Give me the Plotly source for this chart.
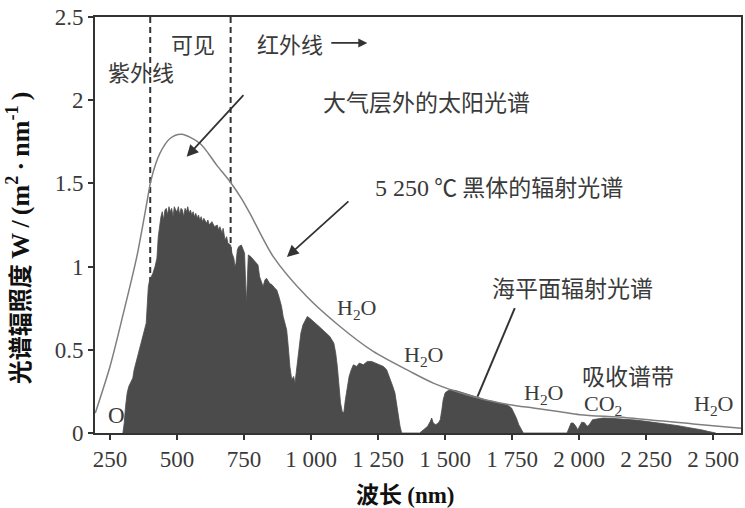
import plotly.graph_objects as go

# ---- data ----
wl_bb = [195, 250, 300, 350, 387, 403, 436, 474, 517, 586, 648, 698, 740, 772, 859, 984,
         1108, 1232, 1369, 1456, 1580, 1705, 1829, 1929, 2003, 2177, 2426, 2604]
irr_bb = [0.12, 0.40, 0.72, 1.06, 1.38, 1.52, 1.68, 1.77, 1.795, 1.74, 1.61, 1.51, 1.41, 1.32,
          1.06, 0.82, 0.64, 0.49, 0.37, 0.30, 0.23, 0.18, 0.15, 0.128, 0.11, 0.092, 0.054, 0.028]

wl_sea = [298, 303, 308, 314, 320, 325, 335, 340, 350, 355, 362, 370, 375, 380, 385, 390, 393, 398,
          405, 410, 418, 425, 430, 435, 440, 445, 450, 455, 460, 465, 470, 475, 480, 485, 490,
          495, 500, 505, 510, 515, 520, 525, 530, 535, 540, 545, 550, 555, 560, 565, 570, 575,
          580, 585, 590, 595, 600, 610, 615, 620, 630, 640, 650, 655, 660, 668, 672, 679, 685,
          690, 700, 705, 712, 716, 720, 725, 730, 740, 748, 752, 756, 759, 763, 766, 775, 785,
          795, 802, 808, 815, 821, 828, 834, 845, 855, 865, 872, 880, 890, 896, 903, 909, 915,
          921, 928, 935, 940, 948, 955, 962, 970, 978, 986, 995, 1010, 1030, 1050, 1070, 1085,
          1092, 1098, 1104, 1110, 1116, 1122, 1128, 1135, 1142, 1150, 1158, 1170, 1180, 1195,
          1210, 1226, 1240, 1255, 1270, 1282, 1295, 1305, 1313, 1320, 1326, 1332, 1338, 1405,
          1420, 1435, 1445, 1450, 1456, 1465, 1475, 1482, 1488, 1493, 1500, 1506, 1520, 1540,
          1560, 1580, 1600, 1620, 1640, 1660, 1680, 1700, 1720, 1735, 1748, 1758, 1766, 1775,
          1785, 1792, 1955, 1962, 1970, 1978, 1986, 1995, 2002, 2010, 2020, 2030, 2038, 2050,
          2070, 2090, 2120, 2150, 2180, 2210, 2250, 2290, 2330, 2370, 2400, 2430, 2460, 2480,
          2500, 2510]
irr_sea = [0, 0.06, 0.16, 0.24, 0.28, 0.30, 0.33, 0.38, 0.44, 0.48, 0.52, 0.56, 0.60, 0.62, 0.66,
           0.80, 0.88, 0.92, 0.94, 0.96, 1.00, 1.05, 1.18, 1.26, 1.30, 1.33, 1.28, 1.34, 1.35,
           1.31, 1.36, 1.33, 1.35, 1.30, 1.36, 1.34, 1.33, 1.36, 1.31, 1.35, 1.34, 1.30, 1.35,
           1.33, 1.36, 1.32, 1.34, 1.31, 1.33, 1.30, 1.32, 1.29, 1.31, 1.28, 1.30, 1.27, 1.29,
           1.26, 1.28, 1.25, 1.27, 1.24, 1.25, 1.22, 1.24, 1.20, 1.23, 1.16, 1.18, 1.14, 1.13,
           1.08, 1.05, 1.00, 1.02, 1.10, 1.12, 1.13, 1.10, 1.08, 0.90, 0.78, 0.95, 1.07, 1.06,
           1.04, 1.02, 1.01, 0.94, 0.90, 0.88, 0.92, 0.93, 0.90, 0.89, 0.87, 0.86, 0.82, 0.76,
           0.70, 0.66, 0.62, 0.52, 0.40, 0.32, 0.34, 0.30, 0.40, 0.52, 0.60, 0.65, 0.68, 0.70,
           0.69, 0.67, 0.64, 0.61, 0.58, 0.54, 0.48, 0.40, 0.30, 0.18, 0.13, 0.12, 0.20, 0.28,
           0.34, 0.38, 0.41, 0.40, 0.42, 0.41, 0.43, 0.43, 0.42, 0.41, 0.40, 0.38, 0.33, 0.28,
           0.24, 0.16, 0.08, 0.04, 0, 0, 0.02, 0.04, 0.07, 0.09, 0.06, 0.05, 0.06, 0.08, 0.14,
           0.20, 0.24, 0.25, 0.26, 0.255, 0.245, 0.235, 0.225, 0.215, 0.205, 0.195, 0.19, 0.18,
           0.175, 0.165, 0.15, 0.12, 0.09, 0.05, 0.02, 0, 0, 0.03, 0.06, 0.06, 0.045, 0.02, 0.04,
           0.065, 0.062, 0.04, 0.05, 0.08, 0.085, 0.09, 0.088, 0.085, 0.08, 0.078, 0.07, 0.062,
           0.052, 0.044, 0.035, 0.028, 0.018, 0.01, 0.004, 0]

x_tickvals = [250, 500, 750, 1000, 1250, 1500, 1750, 2000, 2250, 2500]
x_ticktext = ["250", "500", "750", "1 000", "1 250", "1 500", "1 750", "2 000", "2 250", "2 500"]
y_tickvals = [0, 0.5, 1, 1.5, 2, 2.5]
y_ticktext = ["0", "0.5", "1", "1.5", "2", "2.5"]

band_edges = [400, 700]

SERIF = "Liberation Serif"
CJK = "Noto Sans CJK SC"
TXT = "#3a3a3a"

fig = go.Figure()
fig.add_trace(go.Scatter(x=wl_sea, y=irr_sea, mode="lines", fill="tozeroy",
                         line=dict(color="#4b4b4b", width=0.8), fillcolor="#4b4b4b",
                         hoverinfo="skip", showlegend=False))
fig.add_trace(go.Scatter(x=wl_bb, y=irr_bb, mode="lines",
                         line=dict(color="#7f7f7f", width=1.5, shape="spline", smoothing=0.8),
                         hoverinfo="skip", showlegend=False))

for e in band_edges:
    fig.add_shape(type="line", x0=e, x1=e, y0=0, y1=2.5, xref="x", yref="y",
                  line=dict(color="#333333", width=2, dash="6px,4px"), layer="below")

# line without head (sea-level label)
fig.add_shape(type="line", x0=1760, y0=0.75, x1=1621, y1=0.218, xref="x", yref="y",
              line=dict(color="#333333", width=2))

def txt(x, y, s, size=23, fam=CJK):
    fig.add_annotation(x=x, y=y, text=s, showarrow=False, xref="x", yref="y",
                       font=dict(family=fam, size=size, color=TXT), xanchor="center", yanchor="middle")

txt(366, 2.175, "紫外线", size=22)
txt(561, 2.344, "可见", size=22)
txt(921, 2.344, "红外线", size=22)
txt(1430, 1.995, "大气层外的太阳光谱")
txt(1702, 1.484, "<span style='font-family:Liberation Serif;font-size:24px'>5 250</span> ℃ 黑体的辐射光谱")
txt(1975, 0.877, "海平面辐射光谱")
txt(2182, 0.349, "吸收谱带")
txt(276, 0.108, "O", size=23, fam=SERIF)
txt(1168, 0.745, "H<sub>2</sub>O", size=22, fam=SERIF)
txt(1421, 0.463, "H<sub>2</sub>O", size=22, fam=SERIF)
txt(1869, 0.234, "H<sub>2</sub>O", size=22, fam=SERIF)
txt(2089, 0.168, "CO<sub>2</sub>", size=22, fam=SERIF)
txt(2503, 0.168, "H<sub>2</sub>O", size=22, fam=SERIF)

def arrow(x, y, ax, ay, head=2, size=1.3, width=1.8):
    fig.add_annotation(x=x, y=y, ax=ax, ay=ay, xref="x", yref="y", axref="x", ayref="y",
                       showarrow=True, arrowhead=head, arrowsize=size, arrowwidth=width,
                       arrowcolor="#333333", text="")

arrow(536, 1.66, 753, 2.04)
arrow(910, 1.058, 1145, 1.40)
arrow(1210, 2.344, 1070, 2.344, head=2, size=1.0, width=1.8)

# axis titles
fig.add_annotation(x=0.48, y=-0.145, xref="paper", yref="paper", showarrow=False,
                   text="<b>波长 <span style='font-family:Liberation Serif'>(nm)</span></b>",
                   font=dict(family=CJK, size=23, color="#111111"),
                   xanchor="center", yanchor="middle")
ts = "\u2009"
y_latin = ts.join(["W", "/", "(m<sup>2</sup>", "·", "nm<sup>-1</sup>", ")"])
fig.add_annotation(x=-0.118, y=0.47, xref="paper", yref="paper", showarrow=False, textangle=-90,
                   text="<b>光谱辐照度 <span style='font-family:Liberation Serif;font-size:26px'>"
                        + y_latin + "</span></b>",
                   font=dict(family=CJK, size=24, color="#111111"),
                   xanchor="center", yanchor="middle")

axis_common = dict(showline=True, linecolor="#333333", linewidth=1.6, mirror=True,
                   ticks="outside", ticklen=5, tickwidth=1.5, tickcolor="#333333",
                   showgrid=False, zeroline=False, automargin=False,
                   tickfont=dict(family=SERIF, size=23, color=TXT))
fig.update_xaxes(range=[194, 2604], tickmode="array", tickvals=x_tickvals, ticktext=x_ticktext,
                 **axis_common)
fig.update_yaxes(range=[0, 2.5], tickmode="array", tickvals=y_tickvals, ticktext=y_ticktext,
                 **axis_common)

fig.update_layout(width=745, height=508, margin=dict(l=95, r=4, t=17, b=75, autoexpand=False),
                  plot_bgcolor="white", paper_bgcolor="white", showlegend=False)

fig.write_html("out.html", config={"displayModeBar": False},
               post_script="document.body.style.margin='0';document.body.style.overflow='hidden';")
